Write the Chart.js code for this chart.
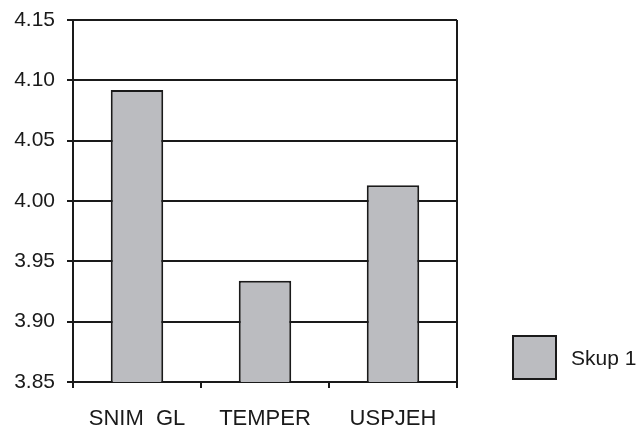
<!DOCTYPE html>
<html>
<head>
<meta charset="utf-8">
<script src="https://cdn.jsdelivr.net/npm/chart.js@4/dist/chart.umd.min.js"></script>
<style>
  html, body { margin: 0; padding: 0; background: #fff; }
  #wrap { position: relative; width: 637px; height: 427px; }
  #legend { position: absolute; left: 512px; top: 335px; display: flex; align-items: center;
            font-family: 'Liberation Sans', Arial, sans-serif; font-size: 21px; color: #1a1a1a; }
  #legend .box { width: 41px; height: 41px; border: 2px solid #1a1a1a; margin-right: 14px; }
</style>
</head>
<body>
<div id="wrap">
  <canvas id="chart" width="637" height="427"></canvas>
  <div id="legend"></div>
</div>
<script>
// Données
const categories = ['SNIM  GL', 'TEMPER', 'USPJEH'];
const seriesName = 'Skup 1';
const seriesValues = [4.092, 3.934, 4.013];
const yTicks = [3.85, 3.90, 3.95, 4.00, 4.05, 4.10, 4.15];

const barColor = '#bbbcc0';
const lineColor = '#1a1a1a';
const fontFamily = "'Liberation Sans', Arial, sans-serif";

const ctx = document.getElementById('chart').getContext('2d');

const chart = new Chart(ctx, {
    type: 'bar',
    data: {
        labels: categories,
        datasets: [{
            label: seriesName,
            data: seriesValues,
            backgroundColor: barColor,
            borderColor: lineColor,
            borderWidth: 2,
            barPercentage: 0.41,
            categoryPercentage: 1
        }]
    },
    options: {
        responsive: false,
        animation: false,
        layout: { padding: { top: 20, right: 180, bottom: 0, left: 0 } },
        scales: {
            x: {
                grid: {
                    offset: true,
                    // seule la bordure droite dans la zone, graduations partout
                    color: c => c.type === 'tick' ? 'transparent' : lineColor,
                    tickColor: lineColor,
                    lineWidth: 2,
                    tickLength: 6
                },
                border: { display: true, color: lineColor, width: 2 },
                ticks: {
                    color: lineColor,
                    padding: 18,
                    font: { family: fontFamily, size: 22 }
                },
                afterFit: scale => { scale.height = 45; }
            },
            y: {
                min: yTicks[0],
                max: yTicks[yTicks.length - 1],
                afterBuildTicks: scale => {
                    scale.ticks = yTicks.map(v => ({ value: v }));
                },
                grid: {
                    color: lineColor,
                    lineWidth: 2,
                    tickLength: 6
                },
                border: { display: true, color: lineColor, width: 2 },
                ticks: {
                    color: lineColor,
                    padding: 12,
                    font: { family: fontFamily, size: 21 },
                    callback: v => Number(v).toFixed(2)
                },
                afterFit: scale => {
                    scale.width = 73;
                    scale.paddingTop = 0;
                    scale.paddingBottom = 0;
                }
            }
        },
        plugins: {
            legend: { display: false },
            tooltip: { enabled: false }
        }
    }
});

// Légende HTML
const legend = document.getElementById('legend');
chart.data.datasets.forEach(ds => {
    const box = document.createElement('div');
    box.className = 'box';
    box.style.background = ds.backgroundColor;
    const txt = document.createElement('span');
    txt.textContent = ds.label;
    legend.appendChild(box);
    legend.appendChild(txt);
});
</script>
</body>
</html>
